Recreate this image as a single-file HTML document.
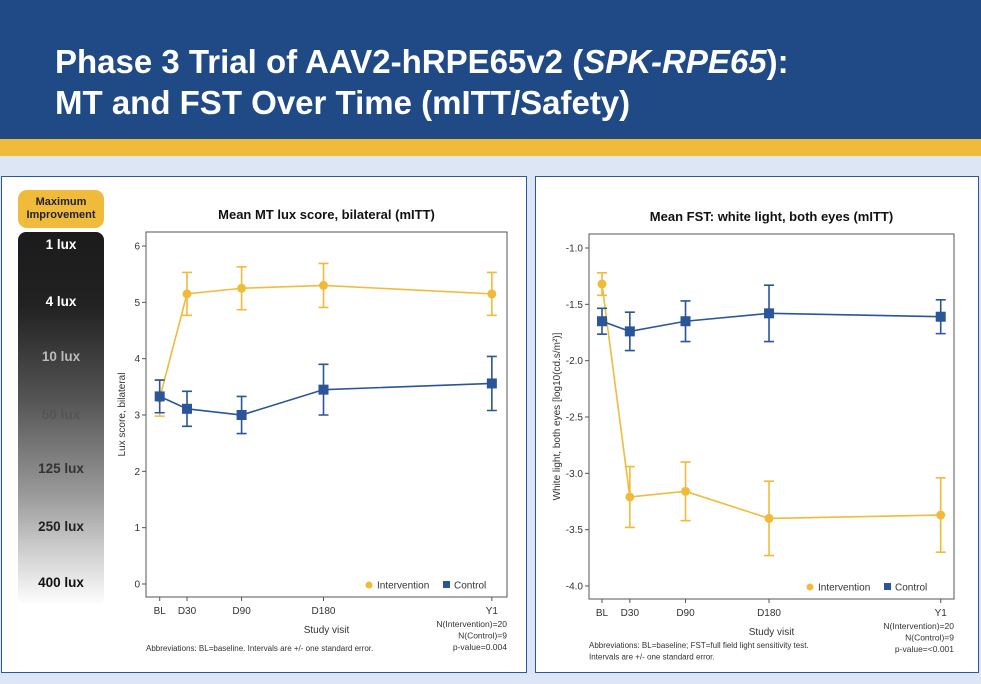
<!DOCTYPE html>
<html><head><meta charset="utf-8">
<style>
body{margin:0;width:981px;height:684px;background:#dce6f4;font-family:"Liberation Sans",Arial,sans-serif;position:relative;overflow:hidden}
#hdr{position:absolute;left:0;top:0;width:981px;height:139px;background:#1f4a86}
#hdr h1{position:absolute;left:55px;top:41px;margin:0;color:#fff;font-size:33px;line-height:41px;font-weight:bold}
#ybar{position:absolute;left:0;top:139px;width:981px;height:17px;background:#f0bb3a}
.panel{position:absolute;background:#fff;border:1.5px solid #2a57a0;box-sizing:border-box}
#lux{position:absolute;left:18px;top:232px;width:86px;height:374px;border-radius:8px;background:linear-gradient(#1b1b1b 0%,#222 20%,#555 45%,#999 70%,#d8d8d8 88%,#fff 100%)}
#badge{position:absolute;left:18px;top:190px;width:86px;height:38px;border-radius:9px;background:#f0bb3a;font-size:11px;font-weight:bold;text-align:center;line-height:13px;padding-top:6px;box-sizing:border-box;color:#222}
.lx{position:absolute;left:0;width:86px;text-align:center;font-weight:bold;font-size:13.5px}
svg{position:absolute;left:0;top:0}
</style></head><body>
<div id="hdr"><h1>Phase 3 Trial of AAV2-hRPE65v2 (<i>SPK-RPE65</i>):<br>MT and FST Over Time (mITT/Safety)</h1></div>
<div id="ybar"></div>
<div class="panel" style="left:1px;top:176px;width:526px;height:497px"></div>
<div class="panel" style="left:535px;top:176px;width:444px;height:497px"></div>
<div id="badge">Maximum<br>Improvement</div>
<div id="lux">
<div class="lx" style="top:5px;color:#fff">1 lux</div>
<div class="lx" style="top:62px;color:#fff">4 lux</div>
<div class="lx" style="top:117px;color:#bbb">10 lux</div>
<div class="lx" style="top:175px;color:#555">50 lux</div>
<div class="lx" style="top:229px;color:#333">125 lux</div>
<div class="lx" style="top:287px;color:#222">250 lux</div>
<div class="lx" style="top:343px;color:#111">400 lux</div>
</div>
<svg id="svg" width="981" height="684" xmlns="http://www.w3.org/2000/svg" font-family="Liberation Sans, Arial, sans-serif"></svg>
<script>
const visitLabels=["BL","D30","D90","D180","Y1"];
const visitDays=[0,30,90,180,365];
const mtIntMean=[3.3,5.15,5.25,5.3,5.15];
const mtIntSE=[0.32,0.38,0.38,0.39,0.38];
const mtCtlMean=[3.33,3.11,3.0,3.45,3.56];
const mtCtlSE=[0.29,0.31,0.33,0.45,0.48];
const mtTicks=[0,1,2,3,4,5,6];
const fstIntMean=[-1.32,-3.21,-3.16,-3.40,-3.37];
const fstIntSE=[0.10,0.27,0.26,0.33,0.33];
const fstCtlMean=[-1.65,-1.74,-1.65,-1.58,-1.61];
const fstCtlSE=[0.115,0.17,0.18,0.25,0.15];
const fstTicks=[-1.0,-1.5,-2.0,-2.5,-3.0,-3.5,-4.0];
const svg=document.getElementById('svg');
const NS='http://www.w3.org/2000/svg';
function mk(tag,attrs,parent){const e=document.createElementNS(NS,tag);for(const k in attrs)e.setAttribute(k,attrs[k]);(parent||svg).appendChild(e);return e;}
function txt(s,attrs){const t=mk('text',attrs);t.textContent=s;return t;}
const YEL='#f0bb3a',BLU='#2a5597';
function chart(cfg){
  const g=mk('g',{});
  
  
  const xs=d=>cfg.xa+cfg.xb*d;
  const ys=v=>cfg.y0px+(v-cfg.v0)*(cfg.y1px-cfg.y0px)/(cfg.v1-cfg.v0);
  const fr=mk('rect',{x:cfg.bx0,y:cfg.by0,width:cfg.bx1-cfg.bx0,height:cfg.by1-cfg.by0,fill:'none',stroke:'#555','stroke-width':1},g);
  
  
  const tt=txt(cfg.title,{x:(cfg.bx0+cfg.bx1)/2,y:cfg.by0-13,'text-anchor':'middle','font-size':13,'font-weight':'bold',fill:'#111'});
  
  
  cfg.ticks.forEach(v=>{
    const y=ys(v);
    mk('line',{x1:cfg.bx0-4,x2:cfg.bx0,y1:y,y2:y,stroke:'#555'},g);
    const t=txt(cfg.fmt(v),{x:cfg.bx0-6,y:y+3.5,'text-anchor':'end','font-size':10,fill:'#333'});
    
    
  });
  visitDays.forEach((d,i)=>{
    const x=xs(d);
    mk('line',{x1:x,x2:x,y1:cfg.by1,y2:cfg.by1+4,stroke:'#555'},g);
    const t=txt(visitLabels[i],{x:x,y:cfg.by1+17,'text-anchor':'middle','font-size':10,fill:'#333'});
    
    
  });
  const xt=txt('Study visit',{x:(cfg.bx0+cfg.bx1)/2,y:cfg.by1+36,'text-anchor':'middle','font-size':10,fill:'#333'});
  
  
  const yt=txt(cfg.ylab,{x:0,y:0,'text-anchor':'middle','font-size':10,fill:'#333',transform:`translate(${cfg.ylx},${(cfg.by0+cfg.by1)/2}) rotate(-90)`});
  
  
  const series=[[cfg.im,cfg.ise,YEL,'circle','intervention'],[cfg.cm,cfg.cse,BLU,'square','control']];
  series.forEach(([m,se,c,shape,nm])=>{
    const pts=m.map((v,i)=>xs(visitDays[i])+','+ys(v)).join(' ');
    const pl=mk('polyline',{points:pts,fill:'none',stroke:c,'stroke-width':1.6},g);
    
    
    m.forEach((v,i)=>{
      const x=xs(visitDays[i]),yh=ys(v+se[i]),yl=ys(v-se[i]);
      const eb=mk('path',{d:`M${x},${yh}V${yl}M${x-5},${yh}H${x+5}M${x-5},${yl}H${x+5}`,stroke:c,'stroke-width':1.6,fill:'none'},g);
      
      
      let p;
      if(shape==='circle')p=mk('circle',{cx:x,cy:ys(v),r:4.5,fill:c},g);
      else p=mk('rect',{x:x-5,y:ys(v)-5,width:10,height:10,fill:c},g);
      
      
    });
  });
  const ly=cfg.by1-12;
  const lc=mk('circle',{cx:cfg.lgx,cy:ly,r:3.5,fill:YEL},g);
  
  
  const l1=txt('Intervention',{x:cfg.lgx+8,y:ly+3.5,'font-size':10,fill:'#333'});
  
  
  const lr=mk('rect',{x:cfg.lgx+74,y:ly-4,width:7,height:7,fill:BLU},g);
  
  
  const l2=txt('Control',{x:cfg.lgx+85,y:ly+3.5,'font-size':10,fill:'#333'});
  
  
  cfg.notes.forEach((n,i)=>{
    const t=txt(n,{x:cfg.bx1,y:cfg.by1+30+i*11.5,'text-anchor':'end','font-size':8.5,fill:'#333'});
    
    
  });
  cfg.abbr.forEach((n,i)=>{
    const t=txt(n,{x:cfg.bx0,y:cfg.abY+i*11.5,'font-size':8,fill:'#333'});
    
    
  });
}
chart({name:'mt-lux-chart',title:'Mean MT lux score, bilateral (mITT)',bx0:146,bx1:507,by0:232,by1:597,
  xa:159.7,xb:0.910,v0:0,v1:6,y0px:584,y1px:246,ticks:mtTicks,fmt:v=>String(v),
  ylab:'Lux score, bilateral',ylx:125,im:mtIntMean,ise:mtIntSE,cm:mtCtlMean,cse:mtCtlSE,lgx:369,
  notes:['N(Intervention)=20','N(Control)=9','p-value=0.004'],abbr:['Abbreviations: BL=baseline. Intervals are +/- one standard error.'],abY:651});
chart({name:'fst-chart',title:'Mean FST: white light, both eyes (mITT)',bx0:589,bx1:954,by0:234,by1:599,
  xa:602,xb:0.928,v0:-4,v1:-1,y0px:586,y1px:248,ticks:fstTicks,fmt:v=>v.toFixed(1),
  ylab:'White light, both eyes [log10(cd.s/m²)]',ylx:560,im:fstIntMean,ise:fstIntSE,cm:fstCtlMean,cse:fstCtlSE,lgx:810,
  notes:['N(Intervention)=20','N(Control)=9','p-value=<0.001'],abbr:['Abbreviations: BL=baseline; FST=full field light sensitivity test.','Intervals are +/- one standard error.'],abY:648});
</script>
</body></html>
